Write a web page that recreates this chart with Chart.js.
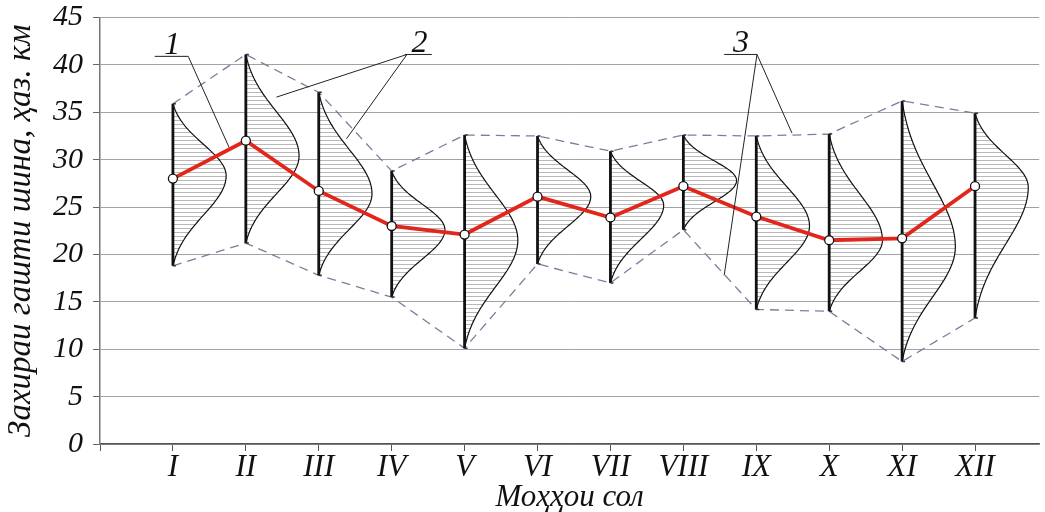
<!DOCTYPE html>
<html>
<head>
<meta charset="utf-8">
<script src="https://cdn.jsdelivr.net/npm/chart.js@4.4.0/dist/chart.umd.min.js"></script>
<style>
  body { margin: 0; background: #fff; }
  canvas { display: block; }
</style>
</head>
<body>
<canvas id="chart" width="1045" height="512"></canvas>
<script>
// months of the year and the values (thousand km)
const months = ['I', 'II', 'III', 'IV', 'V', 'VI', 'VII', 'VIII', 'IX', 'X', 'XI', 'XII'];
const meanValues = [28.0, 32.0, 26.7, 23.0, 22.1, 26.1, 23.9, 27.2, 24.0, 21.5, 21.7, 27.2];
const maxValues = [35.9, 41.1, 37.1, 28.8, 32.6, 32.5, 30.9, 32.6, 32.5, 32.7, 36.2, 34.9];
const minValues = [18.8, 21.2, 17.8, 15.5, 10.1, 19.0, 17.0, 22.6, 14.2, 14.0, 8.7, 13.3];
const peakValues = [28.3, 30.4, 26.4, 22.6, 21.5, 26.1, 25.2, 27.8, 23.0, 21.5, 20.8, 27.1];
const yTicks = [0, 5, 10, 15, 20, 25, 30, 35, 40, 45];

// callout numbers 1, 2, 3 with their leader lines (data units)
const notes = [
  { text: '1', x: 0.99, y: 41.2, bar: [0.75, 1.21], barY: 40.9, from: 1.21, to: [[1.77, 31.3]] },
  { text: '2', x: 4.38, y: 41.4, bar: [4.18, 4.55], barY: 41.1, from: 4.21, to: [[2.42, 36.6], [3.38, 32.2]] },
  { text: '3', x: 8.79, y: 41.4, bar: [8.56, 9.01], barY: 41.1, from: 9.01, to: [[9.49, 32.8], [8.56, 17.8]] }
];

const serif = "'Liberation Serif', 'DejaVu Serif', serif";
const curveWidth = 0.73;

const meanPoints = months.map((m, i) => ({ x: i + 1, y: meanValues[i] }));
const maxPoints = months.map((m, i) => ({ x: i + 1, y: maxValues[i] }));
const minPoints = months.map((m, i) => ({ x: i + 1, y: minValues[i] }));
const rangePoints = months.flatMap((m, i) => [
  { x: i + 1, y: minValues[i] },
  { x: i + 1, y: maxValues[i] },
  { x: i + 1.5, y: null }
]);

function hatchPattern(c) {
  const p = document.createElement('canvas');
  p.width = 8; p.height = 4;
  const pc = p.getContext('2d');
  pc.fillStyle = '#fff';
  pc.fillRect(0, 0, 8, 4);
  pc.fillStyle = '#b8b8b8';
  pc.fillRect(0, 0, 8, 1);
  return c.createPattern(p, 'repeat');
}

// bell-shaped distribution drawn to the right of each range line
const bellPlugin = {
  id: 'bells',
  beforeDatasetsDraw(chart) {
    const { ctx: c, scales: { x, y } } = chart;
    const pattern = hatchPattern(c);
    const w = x.getPixelForValue(curveWidth) - x.getPixelForValue(0);
    const k0 = 2.3;
    const gEnd = Math.exp(-0.5 * k0 * k0);
    months.forEach((m, i) => {
      const lo = minValues[i], hi = maxValues[i], pk = peakValues[i];
      const x0 = x.getPixelForValue(i + 1);
      const pts = [];
      const n = 80;
      for (let k = 0; k <= n; k++) {
        const v = hi - (hi - lo) * k / n;
        const s = (v >= pk ? (hi - pk) : (pk - lo)) / k0;
        const g = Math.exp(-0.5 * Math.pow((v - pk) / s, 2));
        pts.push([x0 + w * Math.max(0, (g - gEnd) / (1 - gEnd)), y.getPixelForValue(v)]);
      }
      c.save();
      c.beginPath();
      c.moveTo(x0, y.getPixelForValue(hi));
      pts.forEach(p => c.lineTo(p[0], p[1]));
      c.lineTo(x0, y.getPixelForValue(lo));
      c.closePath();
      c.fillStyle = pattern;
      c.fill();
      c.beginPath();
      pts.forEach((p, k) => k ? c.lineTo(p[0], p[1]) : c.moveTo(p[0], p[1]));
      c.strokeStyle = '#111';
      c.lineWidth = 1.2;
      c.stroke();
      c.restore();
    });
  },
  afterDatasetsDraw(chart) {
    const { ctx: c, scales: { x, y } } = chart;
    c.save();
    c.strokeStyle = '#222';
    c.lineWidth = 1;
    c.fillStyle = '#111';
    c.font = 'italic 32px ' + serif;
    c.textAlign = 'center';
    c.textBaseline = 'alphabetic';
    notes.forEach(n => {
      c.fillText(n.text, x.getPixelForValue(n.x), y.getPixelForValue(n.y));
      c.beginPath();
      c.moveTo(x.getPixelForValue(n.bar[0]), y.getPixelForValue(n.barY));
      c.lineTo(x.getPixelForValue(n.bar[1]), y.getPixelForValue(n.barY));
      n.to.forEach(t => {
        c.moveTo(x.getPixelForValue(n.from), y.getPixelForValue(n.barY));
        c.lineTo(x.getPixelForValue(t[0]), y.getPixelForValue(t[1]));
      });
      c.stroke();
    });
    c.restore();
  }
};

const ctx = document.getElementById('chart').getContext('2d');

const myChart = new Chart(ctx, {
  type: 'line',
  data: {
    datasets: [{
      label: 'mean',
      data: meanPoints,
      borderColor: '#e2261c',
      borderWidth: 3.8,
      pointRadius: 4.5,
      pointBackgroundColor: '#fff',
      pointBorderColor: '#111',
      pointBorderWidth: 1.3,
      tension: 0
    }, {
      label: 'range',
      data: rangePoints,
      borderColor: '#111',
      borderWidth: 2.8,
      spanGaps: false,
      pointStyle: 'dash',
      pointRadius: 3,
      pointBorderColor: '#333',
      pointBorderWidth: 1.5
    }, {
      label: 'max',
      data: maxPoints,
      borderColor: '#7b7d9c',
      borderWidth: 1.3,
      borderDash: [9, 6],
      pointRadius: 0
    }, {
      label: 'min',
      data: minPoints,
      borderColor: '#7b7d9c',
      borderWidth: 1.3,
      borderDash: [9, 6],
      pointRadius: 0
    }]
  },
  options: {
    responsive: false,
    animation: false,
    layout: { padding: { top: 17, right: 0, left: 0, bottom: 0 } },
    plugins: {
      legend: { display: false },
      tooltip: { enabled: false }
    },
    scales: {
      x: {
        type: 'linear',
        min: 0,
        max: 12.88,
        afterBuildTicks: s => { s.ticks = [0].concat(months.map((m, i) => i + 1)).map(v => ({ value: v })); },
        afterFit: s => { s.height = 68; },
        ticks: {
          callback: v => v === 0 ? '' : months[v - 1],
          color: '#111',
          padding: -2,
          maxRotation: 0,
          font: { family: serif, size: 31, style: 'italic' }
        },
        grid: { drawOnChartArea: false, drawTicks: true, tickLength: 7, color: '#555' },
        border: { display: true, color: '#555', width: 1.5 },
        title: {
          display: true,
          text: 'Моҳҳои сол',
          color: '#111',
          padding: { top: 0, bottom: -4 },
          font: { family: serif, size: 31, style: 'italic' }
        }
      },
      y: {
        min: 0,
        max: 45,
        afterBuildTicks: s => { s.ticks = yTicks.map(v => ({ value: v })); },
        afterFit: s => { s.width = 100; },
        ticks: {
          color: '#111',
          padding: 10,
          font: { family: serif, size: 30, style: 'italic', lineHeight: 0.5 }
        },
        grid: { color: '#a2a2a2', lineWidth: 1, tickLength: 7, tickColor: '#666' },
        border: { display: true, color: '#777', width: 1.5 },
        title: {
          display: true,
          text: 'Захираи гашти шина, ҳаз. км',
          color: '#111',
          padding: { top: 2, bottom: 0 },
          font: { family: serif, size: 33, style: 'italic' }
        }
      }
    }
  },
  plugins: [bellPlugin]
});
</script>
</body>
</html>
